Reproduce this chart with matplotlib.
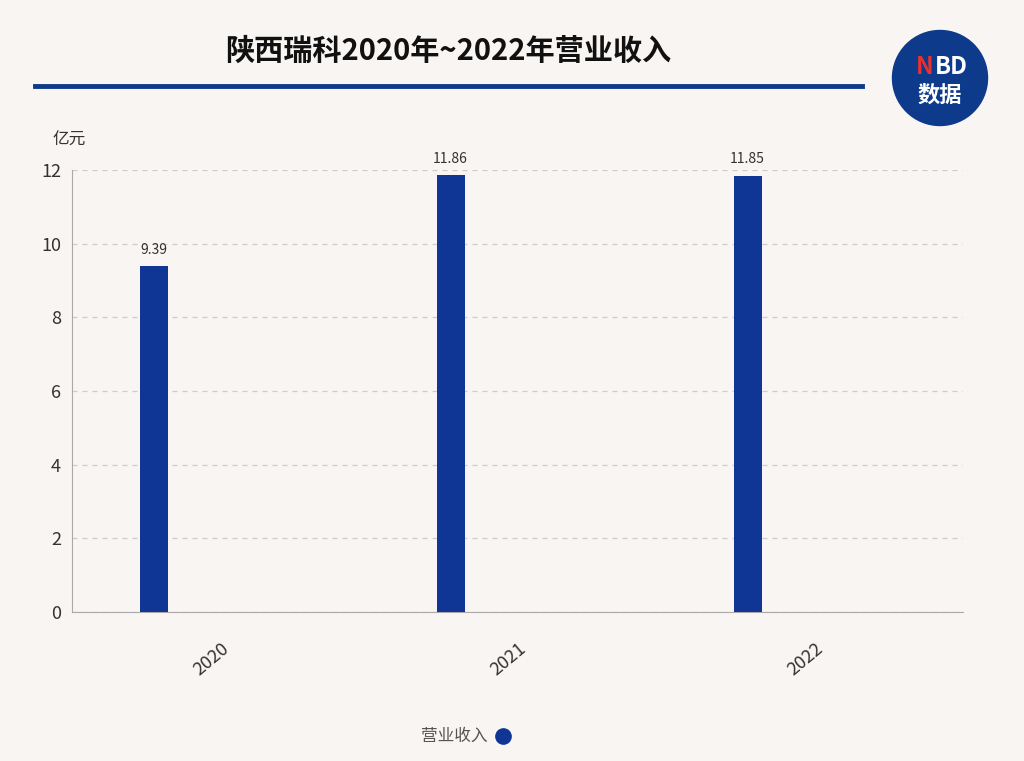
import matplotlib
matplotlib.use("Agg")
import matplotlib.pyplot as plt
from matplotlib.patches import Circle

plt.rcParams['font.family'] = ['Noto Sans CJK SC', 'DejaVu Sans']

years = ["2020", "2021", "2022"]
revenue = [9.39, 11.86, 11.85]
yticks = [0, 2, 4, 6, 8, 10, 12]

bg = "#f8f5f2"
blue = "#0f3595"
fig = plt.figure(figsize=(10.24, 7.61), dpi=100, facecolor=bg)
W, H = 1024, 761
ax = fig.add_axes([72/W, 1-612/H, (963-72)/W, (612-170)/H], facecolor=bg)

x = list(range(len(years)))
ax.bar([i - 0.225 for i in x], revenue, width=0.094, color=blue, zorder=3)
for i, v in zip(x, revenue):
    ax.text(i - 0.225, v + 0.25, f"{v:.2f}", ha="center", va="bottom", fontsize=10, color="#333333")
ax.set_xlim(-0.5, 2.5)
ax.set_ylim(0, 12)
ax.set_yticks(yticks)
ax.set_yticklabels([str(t) for t in yticks], fontsize=13, color="#333333")
ax.set_xticks(x)
ax.set_xticklabels(years, rotation=40, fontsize=13, color="#333333", ha="right", rotation_mode="anchor")
ax.tick_params(axis="x", length=0, pad=20)
ax.tick_params(axis="y", length=0, pad=8)
ax.grid(axis="y", linestyle=(0, (4, 4)), color="#cccccc", linewidth=0.9, zorder=0)
for s in ["top", "right"]:
    ax.spines[s].set_visible(False)
ax.spines["left"].set_color("#aaaaaa")
ax.spines["bottom"].set_color("#aaaaaa")

fig.text(52/W, 1-140/H, "亿元", fontsize=12, color="#333333", va="center")
fig.text(448/W, 1-51/H, "陕西瑞科2020年~2022年营业收入", fontsize=21, fontweight="bold",
         ha="center", va="center", color="#111111")
fig.add_artist(plt.Line2D([35/W, 862/W], [1-86/H, 1-86/H], color="#0d3a8a", linewidth=3.5))

# logo
lax = fig.add_axes([890/W, 1-128/H, 100/W, 100/H])
lax.set_xlim(-1, 1); lax.set_ylim(-1, 1); lax.set_aspect("equal"); lax.axis("off")
lax.add_patch(Circle((0, 0), 0.95, color="#0d3a8a"))
lax.text(-0.3, 0.22, "N", color="#e8312f", fontsize=17, fontweight="bold", ha="center", va="center", style="italic")
lax.text(0.22, 0.22, "BD", color="white", fontsize=17, fontweight="bold", ha="center", va="center", style="italic")
lax.text(0.0, -0.35, "数据", color="white", fontsize=16, fontweight="bold", ha="center", va="center")

# legend
fig.text(488/W, 1-736/H, "营业收入", fontsize=12, color="#555555", ha="right", va="center")
fig.add_artist(plt.Line2D([503/W], [1-736/H], marker="o", markersize=11, color=blue, linestyle="none"))

fig.savefig("out.png", dpi=100, facecolor=bg)
